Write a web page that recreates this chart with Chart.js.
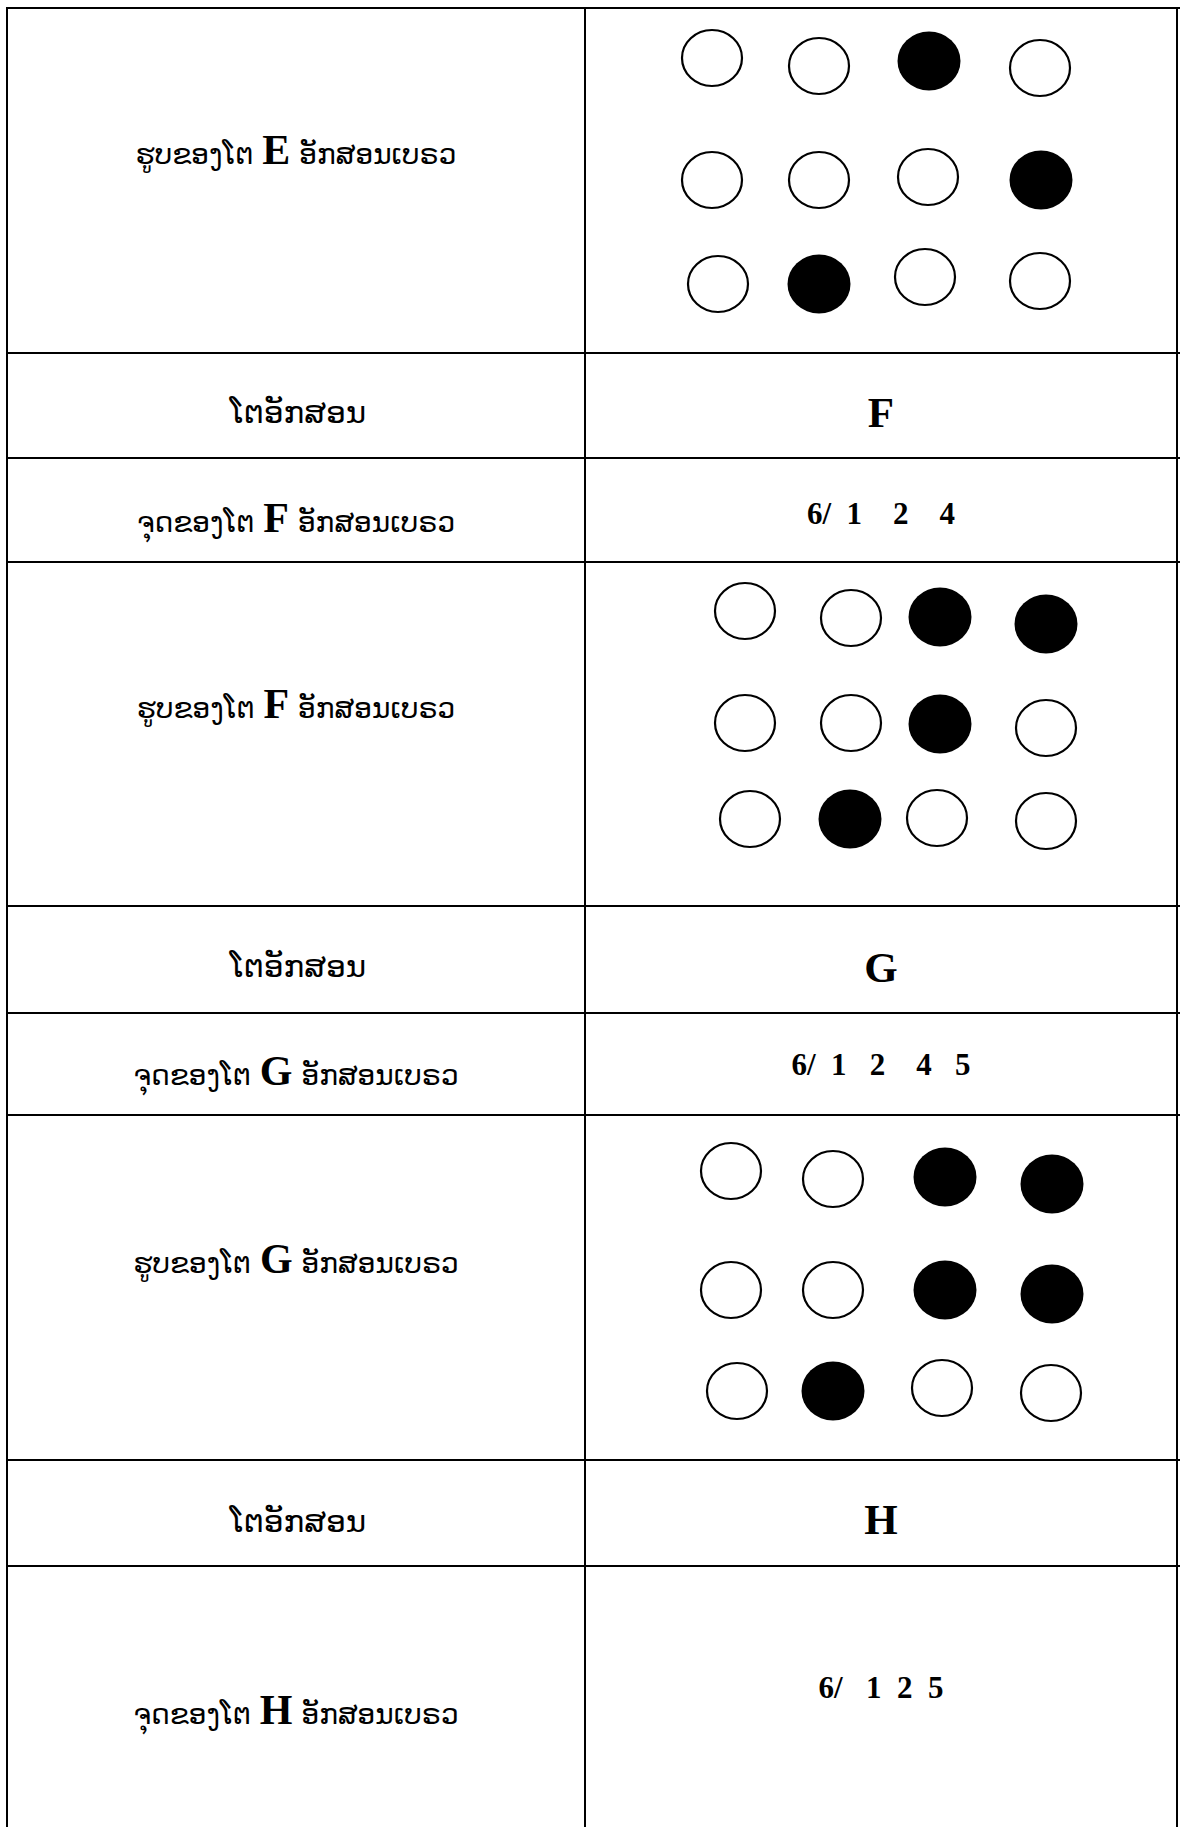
<!DOCTYPE html>
<html>
<head>
<meta charset="utf-8">
<script src="https://cdn.jsdelivr.net/npm/chart.js@4.4.1/dist/chart.umd.min.js"></script>
<style>
  html,body{margin:0;padding:0;background:#fff;}
  #page{position:relative;width:1180px;height:1827px;overflow:hidden;background:#fff;}
  .h{position:absolute;left:7px;width:1173px;height:2px;background:#000;z-index:3;}
  .v{position:absolute;top:7px;width:2px;height:1820px;background:#000;z-index:3;}
  .t{position:absolute;white-space:pre;text-align:center;transform:translate(-50%,-50%);
     font-family:"DejaVu Sans",sans-serif;font-size:28px;line-height:1;color:#000;z-index:2;}
  .lbl{font-size:31px;}
  .lat{font-family:"Liberation Serif","Times New Roman",serif;font-weight:bold;font-size:42px;}
  .big{font-family:"Liberation Serif","Times New Roman",serif;font-weight:bold;font-size:43px;}
  .num{font-family:"Liberation Serif","Times New Roman",serif;font-weight:bold;font-size:31px;}
  canvas{position:absolute;z-index:1;}
</style>
</head>
<body>
<div id="page"></div>
<script>
// ---- data ----
const rowLines = [8, 353, 458, 562, 906, 1013, 1115, 1460, 1566];
const colLines = [7, 585, 1177];

const letters = ["E", "F", "G", "H"];
const labelLetter = "ໂຕອັກສອນ";
const labelDotsPre = "ຈຸດຂອງໂຕ ";
const labelPicPre = "ຮູບຂອງໂຕ ";
const labelPost = " ອັກສອນເບຣວ";
const dotNumbers = {F: "6/  1    2    4", G: "6/  1   2    4   5", H: "6/   1  2  5"};

// braille-style dot cells: x/y positions of the 3x4 dots (cell units) and fill (1 = black)
const dotsE_x = [[127,234,344,455],[127,234,343,456],[133,234,340,455]];
const dotsE_y = [[50,58,53,60],[172,172,169,172],[276,276,269,273]];
const dotsE_fill = [[0,0,1,0],[0,0,0,1],[0,1,0,0]];

const dotsF_x = [[160,266,355,461],[160,266,355,461],[165,265,352,461]];
const dotsF_y = [[49,56,55,62],[161,161,162,166],[257,257,256,259]];
const dotsF_fill = [[0,0,1,1],[0,0,1,0],[0,1,0,0]];

const dotsG_x = [[146,248,360,467],[146,248,360,467],[152,248,357,466]];
const dotsG_y = [[56,64,62,69],[175,175,175,179],[276,276,273,278]];
const dotsG_fill = [[0,0,1,1],[0,0,1,1],[0,1,0,0]];

// ---- layout ----
const page = document.getElementById('page');
rowLines.forEach(y => { const d = document.createElement('div'); d.className='h'; d.style.top=(y-1)+'px'; page.appendChild(d); });
colLines.forEach(x => { const d = document.createElement('div'); d.className='v'; d.style.left=(x-1)+'px'; page.appendChild(d); });

const leftX = (colLines[0]+colLines[1])/2;
const rightX = (colLines[1]+colLines[2])/2;

function addText(html, x, y, cls) {
  const d = document.createElement('div');
  d.className = 't' + (cls ? ' ' + cls : '');
  d.innerHTML = html;
  d.style.left = x + 'px'; d.style.top = y + 'px';
  page.appendChild(d);
}
function mixed(pre, L) { return pre + '<span class="lat">' + L + '</span>' + labelPost; }

// left column
addText(mixed(labelPicPre, 'E'), leftX, 150);
addText(labelLetter, leftX + 2, 412, 'lbl');
addText(mixed(labelDotsPre, 'F'), leftX, 518);
addText(mixed(labelPicPre, 'F'), leftX, 704);
addText(labelLetter, leftX + 2, 966, 'lbl');
addText(mixed(labelDotsPre, 'G'), leftX, 1071);
addText(mixed(labelPicPre, 'G'), leftX, 1259);
addText(labelLetter, leftX + 2, 1521, 'lbl');
addText(mixed(labelDotsPre, 'H'), leftX, 1710);

// right column
addText('F', rightX, 412, 'big');
addText(dotNumbers.F, rightX, 513, 'num');
addText('G', rightX, 967, 'big');
addText(dotNumbers.G, rightX, 1064, 'num');
addText('H', rightX, 1519, 'big');
addText(dotNumbers.H, rightX, 1687, 'num');

// ---- dot point styles (slightly wide ellipse) ----
function ellipseImg(filled) {
  const c = document.createElement('canvas');
  c.width = 66; c.height = 62;
  const g = c.getContext('2d');
  g.beginPath();
  g.ellipse(33, 31, filled ? 31.5 : 30, filled ? 29.5 : 28, 0, 0, Math.PI*2);
  if (filled) { g.fillStyle = '#000'; g.fill(); }
  else { g.fillStyle = '#fff'; g.fill(); g.lineWidth = 2.2; g.strokeStyle = '#000'; g.stroke(); }
  return c;
}
const imgHollow = ellipseImg(false), imgFilled = ellipseImg(true);

function dotChart(top, bottom, xs, ys, fill) {
  const w = colLines[2] - colLines[1], h = bottom - top;
  const cv = document.createElement('canvas');
  cv.width = w; cv.height = h;
  cv.style.left = colLines[1] + 'px'; cv.style.top = top + 'px';
  cv.style.width = w + 'px'; cv.style.height = h + 'px';
  page.appendChild(cv);
  const hollow = [], solid = [];
  for (let r = 0; r < xs.length; r++) for (let c = 0; c < xs[r].length; c++) {
    (fill[r][c] ? solid : hollow).push({x: xs[r][c], y: ys[r][c]});
  }
  new Chart(cv, {
    type: 'scatter',
    data: { datasets: [
      { data: hollow, pointStyle: imgHollow, pointRadius: 30, showLine: false, clip: false },
      { data: solid, pointStyle: imgFilled, pointRadius: 30, showLine: false, clip: false }
    ]},
    options: {
      responsive: false, animation: false, devicePixelRatio: 1,
      layout: { padding: 0, autoPadding: false },
      plugins: { legend: {display: false}, tooltip: {enabled: false} },
      events: [],
      scales: {
        x: { type: 'linear', min: 0, max: w, display: false },
        y: { type: 'linear', min: 0, max: h, reverse: true, display: false }
      }
    }
  });
}
dotChart(rowLines[0], rowLines[1], dotsE_x, dotsE_y, dotsE_fill);
dotChart(rowLines[3], rowLines[4], dotsF_x, dotsF_y, dotsF_fill);
dotChart(rowLines[6], rowLines[7], dotsG_x, dotsG_y, dotsG_fill);
</script>
</body>
</html>
